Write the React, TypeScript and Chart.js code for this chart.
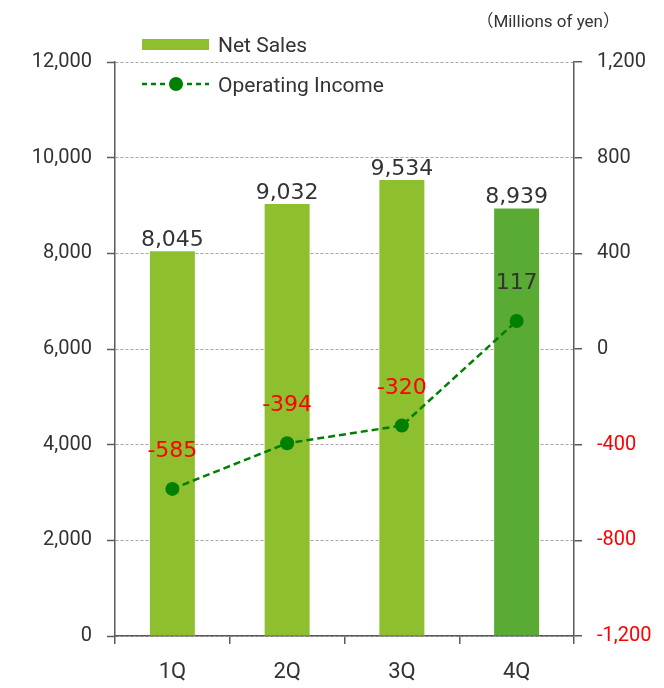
import React, { useEffect, useRef } from 'react';
import { Chart, registerables } from 'chart.js';

Chart.register(...registerables);

const categories = ['1Q', '2Q', '3Q', '4Q'];
const netSales = [8045, 9032, 9534, 8939];
const operatingIncome = [-585, -394, -320, 117];
const leftTickValues = [0, 2000, 4000, 6000, 8000, 10000, 12000];
const rightTickValues = [-1200, -800, -400, 0, 400, 800, 1200];
const barColors = ['#8dbf2f', '#8dbf2f', '#8dbf2f', '#5aab34'];
const unitLabel = '（Millions of yen）';
const legendNetSales = 'Net Sales';
const legendOperating = 'Operating Income';

const AXIS_COLOR = '#5a5a5a';
const TEXT_COLOR = '#333333';
const LINE_COLOR = '#008000';

const fmt = (v: number) => v.toLocaleString('en-US');

const labelPlugin = {
  id: 'valueLabels',
  afterDatasetsDraw(chart: any) {
    const ctx = chart.ctx;
    ctx.save();
    ctx.font = '22px "DejaVu Sans"';
    ctx.textAlign = 'center';
    ctx.textBaseline = 'alphabetic';
    const barMeta = chart.getDatasetMeta(0);
    barMeta.data.forEach((el: any, i: number) => {
      ctx.fillStyle = TEXT_COLOR;
      ctx.fillText(fmt(netSales[i]), el.x, el.y - 5);
    });
    const lineMeta = chart.getDatasetMeta(1);
    lineMeta.data.forEach((el: any, i: number) => {
      const v = operatingIncome[i];
      ctx.fillStyle = v < 0 ? '#ff0000' : TEXT_COLOR;
      ctx.fillText(fmt(v), el.x, el.y - 32);
    });
    ctx.restore();
  },
};

const legendPlugin = {
  id: 'customLegend',
  afterDraw(chart: any) {
    const ctx = chart.ctx;
    ctx.save();
    // Net Sales
    ctx.fillStyle = barColors[0];
    ctx.fillRect(142, 39, 67, 11);
    ctx.fillStyle = TEXT_COLOR;
    ctx.font = '21px Roboto';
    ctx.textAlign = 'left';
    ctx.textBaseline = 'alphabetic';
    ctx.fillText(legendNetSales, 218, 52);
    // Operating income
    ctx.strokeStyle = LINE_COLOR;
    ctx.lineWidth = 2.5;
    ctx.setLineDash([5, 4]);
    ctx.beginPath();
    ctx.moveTo(142, 84);
    ctx.lineTo(209, 84);
    ctx.stroke();
    ctx.setLineDash([]);
    ctx.fillStyle = LINE_COLOR;
    ctx.beginPath();
    ctx.arc(176, 84, 7, 0, Math.PI * 2);
    ctx.fill();
    ctx.fillStyle = TEXT_COLOR;
    ctx.fillText(legendOperating, 218, 92);
    // unit
    ctx.font = '17px Roboto, "Noto Sans CJK JP"';
    ctx.textAlign = 'right';
    ctx.fillText(unitLabel, 620, 27);
    ctx.restore();
  },
};

export default function App() {
  const ref = useRef<HTMLCanvasElement>(null);

  useEffect(() => {
    if (!ref.current) return;
    const chart = new Chart(ref.current, {
      type: 'bar',
      data: {
        labels: categories,
        datasets: [
          {
            type: 'bar',
            label: legendNetSales,
            data: netSales,
            backgroundColor: barColors,
            borderWidth: 0,
            categoryPercentage: 1,
            barPercentage: 0.392,
            yAxisID: 'y',
            order: 1,
          },
          {
            type: 'line',
            label: legendOperating,
            data: operatingIncome,
            borderColor: LINE_COLOR,
            borderWidth: 2.5,
            borderDash: [7, 4],
            pointRadius: 7,
            pointBackgroundColor: LINE_COLOR,
            pointBorderColor: LINE_COLOR,
            pointBorderWidth: 0,
            tension: 0,
            yAxisID: 'y1',
            order: 0,
          } as any,
        ],
      },
      options: {
        animation: false,
        responsive: false,
        devicePixelRatio: 1,
        layout: { padding: { top: 62, left: 0, right: 0, bottom: 0 } },
        plugins: {
          legend: { display: false },
          tooltip: { enabled: false },
        },
        scales: {
          x: {
            offset: true,
            grid: {
              offset: true,
              drawOnChartArea: false,
              tickLength: 8,
              color: AXIS_COLOR,
              lineWidth: 1.5,
            },
            border: { color: AXIS_COLOR, width: 1.5 },
            ticks: {
              color: TEXT_COLOR,
              font: { family: 'Roboto', size: 22 },
              padding: 15,
            },
            afterFit: (s: any) => {
              s.height = 52;
            },
          },
          y: {
            position: 'left',
            min: 0,
            max: 12000,
            afterBuildTicks: (s: any) => {
              s.ticks = leftTickValues.map((v) => ({ value: v }));
            },
            grid: {
              color: '#a6a6a6',
              lineWidth: 1,
              tickColor: AXIS_COLOR,
              tickWidth: 1.5,
              tickLength: 8,
              tickBorderDash: [],
            },
            border: { color: AXIS_COLOR, width: 1.5, dash: [3, 2] },
            ticks: {
              color: TEXT_COLOR,
              font: { family: 'Roboto', size: 20 },
              padding: 15,
              callback: (v: any) => fmt(Number(v)),
            },
            afterFit: (s: any) => {
              s.width = 115;
            },
          },
          y1: {
            position: 'right',
            min: -1200,
            max: 1200,
            afterBuildTicks: (s: any) => {
              s.ticks = rightTickValues.map((v) => ({ value: v }));
            },
            grid: {
              drawOnChartArea: false,
              color: AXIS_COLOR,
              lineWidth: 1.5,
              tickLength: 8,
            },
            border: { color: AXIS_COLOR, width: 1.5 },
            ticks: {
              color: (c: any) => (c.tick && c.tick.value < 0 ? '#ff0000' : TEXT_COLOR),
              font: { family: 'Roboto', size: 20 },
              padding: 15,
              callback: (v: any) => fmt(Number(v)),
            },
            afterFit: (s: any) => {
              s.width = 90;
            },
          },
        },
      } as any,
      plugins: [labelPlugin, legendPlugin],
    });
    return () => chart.destroy();
  }, []);

  return (
    <div style={{ position: 'fixed', left: 0, top: 0, width: 664, height: 688, background: '#fff' }}>
      <canvas ref={ref} width={664} height={688} />
    </div>
  );
}
